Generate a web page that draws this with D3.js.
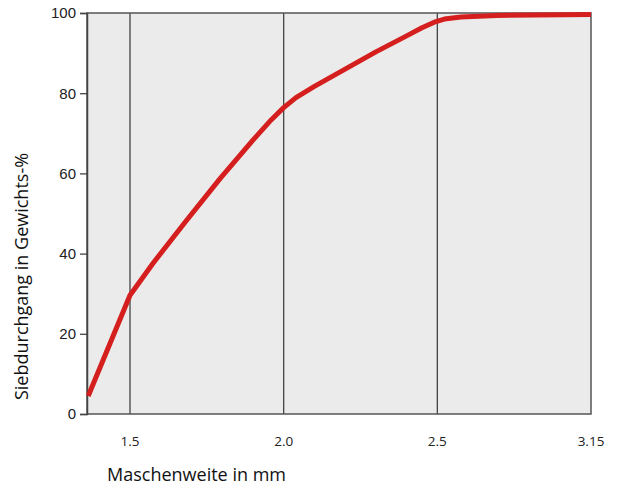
<!DOCTYPE html>
<html><head><meta charset="utf-8">
<script src="https://cdn.jsdelivr.net/npm/d3@7"></script>
<style>body{margin:0;background:#fff}</style>
</head><body>
<script>
const xTicks = [1.5, 2.0, 2.5, 3.15];
const xTickLabels = ["1.5", "2.0", "2.5", "3.15"];
const yTicks = [0, 20, 40, 60, 80, 100];
const mesh = [1.364, 1.5, 1.575, 1.685, 1.793, 1.9, 1.96, 2.0, 2.04, 2.1, 2.2, 2.3, 2.4, 2.45, 2.49, 2.53, 2.6, 2.75, 3.15];
const passing = [4.5, 29.6, 37.6, 48.4, 58.7, 68.3, 73.4, 76.4, 78.9, 81.7, 86.0, 90.3, 94.3, 96.3, 97.7, 98.5, 99.0, 99.4, 99.6];

const W = 625, H = 488;
const L = 87, R = 591, T = 13, B = 414;
const svg = d3.select("body").append("svg").attr("width", W).attr("height", H);

const step = (R - 130) / 3;
const x = d3.scaleLinear().domain(xTicks).range([130, 130 + step, 130 + 2 * step, R]);
const y = d3.scaleLinear().domain([0, 100]).range([B, T]);

svg.append("rect").attr("x", L).attr("y", T).attr("width", R - L).attr("height", B - T)
  .attr("fill", "#ebebeb");

// vertical grid lines
svg.selectAll("line.v").data(xTicks.slice(0, 3)).enter().append("line")
  .attr("x1", d => x(d)).attr("x2", d => x(d)).attr("y1", T).attr("y2", B)
  .attr("stroke", "#444").attr("stroke-width", 1.3);

// frame
svg.append("rect").attr("x", L).attr("y", T).attr("width", R - L).attr("height", B - T)
  .attr("fill", "none").attr("stroke", "#555").attr("stroke-width", 1.5);

// y axis
const yAxis = d3.axisLeft(y).tickValues(yTicks).tickSize(7).tickPadding(4);
const gy = svg.append("g").attr("transform", `translate(${L},0)`).call(yAxis);
gy.select(".domain").attr("stroke", "#444").attr("stroke-width", 1.5);
gy.selectAll(".tick line").attr("stroke", "#444").attr("stroke-width", 1.3);
gy.selectAll(".tick text").attr("font-family", "Liberation Sans, Arial, sans-serif")
  .attr("font-size", 15).attr("fill", "#222");

// x labels
svg.selectAll("text.xl").data(xTicks).enter().append("text")
  .attr("x", d => x(d)).attr("y", 446).attr("text-anchor", "middle")
  .attr("font-family", "Open Sans, Noto Sans, sans-serif").attr("font-size", 13.5).attr("fill", "#222")
  .text((d, i) => xTickLabels[i]);

// line
const line = d3.line().x(d => x(d[0])).y(d => y(d[1])).curve(d3.curveLinear);
svg.append("path").datum(mesh.map((m, i) => [m, passing[i]]))
  .attr("d", line).attr("fill", "none").attr("stroke", "#d51f1f")
  .attr("stroke-width", 5).attr("stroke-linejoin", "round");

// titles
svg.append("text").attr("x", 107).attr("y", 481)
  .attr("font-family", "Open Sans, Noto Sans, sans-serif").attr("font-size", 18).attr("fill", "#111")
  .text("Maschenweite in mm");
svg.append("text").attr("transform", `translate(28,${(133 + 420) / 2}) rotate(-90)`)
  .attr("text-anchor", "middle")
  .attr("font-family", "Open Sans, Noto Sans, sans-serif").attr("font-size", 18).attr("fill", "#111")
  .text("Siebdurchgang in Gewichts-%");
</script>
</body></html>
